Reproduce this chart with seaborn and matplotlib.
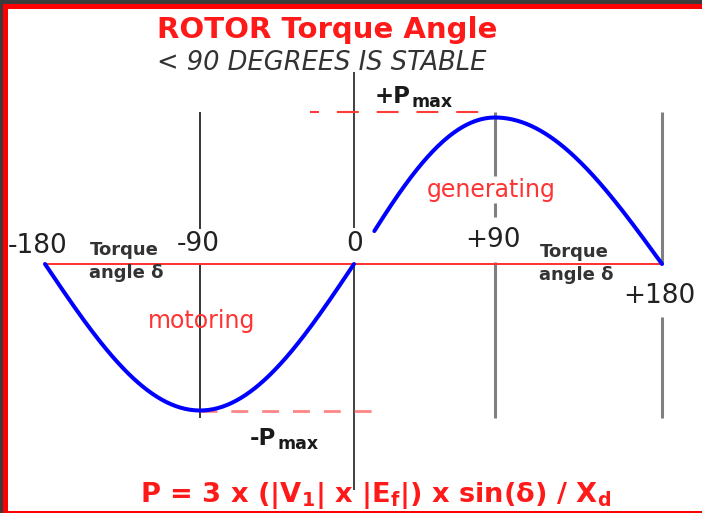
import numpy as np
import pandas as pd
import seaborn as sns
import matplotlib
matplotlib.use('Agg')
import matplotlib.pyplot as plt
from matplotlib.patches import Rectangle

# chart values (angle in degrees, power in units of Pmax)
angle_ticks = [-180, -90, 0, 90, 180]
tick_labels = ['-180', '-90', '0', '+90', '+180']
p_max = 1.0
motoring_range = [-180, 0]
generating_range = [13, 180]      # curve starts a bit right of the "0" label
pmax_dash_x = [-26, 90]
pmax_dash_y = 1.038
nmax_dash_x = [-90, 18]
nmax_dash_y = -1.003
guide_x = [-90, 0, 90, 180]
guide_segments = [
    [(1.038, 0.239), (0.007, -1.051)],
    [(1.311, 0.246), (0.007, -1.543)],
    [(1.038, 0.601), (0.416, 0.321), (0.014, -1.051)],
    [(1.038, 0.0), (-0.362, -1.051)],
]

W, H = 702, 513
sns.set_style('white')
plt.rcParams['font.family'] = ['DejaVu Sans']
plt.rcParams['mathtext.fontset'] = 'custom'
plt.rcParams['mathtext.rm'] = 'DejaVu Sans:bold'
plt.rcParams['mathtext.it'] = 'DejaVu Sans:bold'
plt.rcParams['mathtext.bf'] = 'DejaVu Sans:bold'
plt.rcParams['mathtext.default'] = 'rm'

fig = plt.figure(figsize=(W / 100, H / 100), dpi=100, facecolor='#3b3b3b')

def px(x, y):
    return x / W, 1 - y / H

# red frame and white panel
fig.add_artist(Rectangle(px(3, 513), (W - 3) / W, 509 / H, transform=fig.transFigure,
                         facecolor='#ff0000', edgecolor='none', zorder=-5))
fig.add_artist(Rectangle(px(7.5, 511), (W - 7.5) / W, 502 / H, transform=fig.transFigure,
                         facecolor='white', edgecolor='none', zorder=-4))

ax = fig.add_axes([0, 0, 1, 1])
ax.patch.set_alpha(0)

# the drawing spaces the angle marks unevenly; piecewise-linear angle scale
scale_deg = [-206.2, -180, -90, 0, 90, 180, 201.6]
scale_px = [0, 45, 200, 354, 495, 662, 702]
ax.set_xscale('function', functions=(lambda a: np.interp(a, scale_deg, scale_px),
                                     lambda p: np.interp(p, scale_px, scale_deg)))
ax.set_xlim(scale_deg[0], scale_deg[-1])
ax.set_ylim(-(H - 264) / 146.5, 264 / 146.5)

# vertical guide lines
guide_styles = [('black', 1.1), ('#404040', 1.4), ('#808080', 2.2), ('#808080', 2.2)]
for gx, segs, (c, lw) in zip(guide_x, guide_segments, guide_styles):
    for top, bot in segs:
        ax.vlines(gx, bot, top, color=c, lw=lw, zorder=1)

# torque angle axis
ax.plot([angle_ticks[0], angle_ticks[-1]], [0, 0], color='#ff3030', lw=1.4, zorder=2)

# Pmax dashed levels
ax.plot(pmax_dash_x, [pmax_dash_y] * 2, color='#ff3b3b', lw=1.5,
        linestyle=(6.2, (10.5, 8.6)), dash_capstyle='butt', zorder=2)
ax.plot(nmax_dash_x, [nmax_dash_y] * 2, color='#ff8585', lw=2.0,
        linestyle=(0, (6.1, 5.0)), dash_capstyle='butt', zorder=2)

# power-angle curve P = Pmax sin(delta)
rows = []
for name, (a0, a1) in [('motoring', motoring_range), ('generating', generating_range)]:
    d = np.linspace(a0, a1, 200)
    rows.append(pd.DataFrame({'delta': d, 'P': p_max * np.sin(np.radians(d)), 'mode': name}))
curve = pd.concat(rows)
sns.lineplot(data=curve, x='delta', y='P', units='mode', estimator=None, color='#0000ff',
             lw=2.9, sort=False, ax=ax, zorder=3, legend=False)
ax.axis('off')

# titles
fig.text(*px(157, 38), 'ROTOR Torque Angle', color='#ff1a1a', fontsize=21,
         fontweight='bold', ha='left', va='baseline')
fig.text(*px(157, 70), '< 90 DEGREES IS STABLE', color='#333333', fontsize=18.5,
         style='italic', ha='left', va='baseline')

# tick labels
tick_pos = [(8, 253, 'left'), (177, 251, 'left'), (355, 251, 'center'),
            (465, 247, 'left'), (623, 303, 'left')]
for (x, y, ha), lab in zip(tick_pos, tick_labels):
    fig.text(*px(x, y), lab, color='#222222', fontsize=19, ha=ha, va='baseline')

# axis captions
for x, y in [(90, 255), (540, 257)]:
    fig.text(*px(x, y), 'Torque', color='#333333', fontsize=13, fontweight='bold',
             ha='left', va='baseline')
    fig.text(*px(x - 1, y + 23), 'angle δ', color='#333333', fontsize=13, fontweight='bold',
             ha='left', va='baseline')

fig.text(*px(427, 197), 'generating', color='#ff3333', fontsize=17, ha='left', va='baseline')
fig.text(*px(148, 328), 'motoring', color='#ff3333', fontsize=17, ha='left', va='baseline')

# Pmax labels, "max" set as a subscript right after the P
for sign, x0, y0 in [('+P', 375, 103), ('-P', 250, 445)]:
    t = fig.text(*px(x0, y0), sign, color='#1a1a1a', fontsize=16.5, fontweight='bold',
                 ha='left', va='baseline')
    ax.annotate('max', xy=(1, 0), xycoords=t, xytext=(0.5, 1), textcoords='offset points',
                color='#1a1a1a', fontsize=12.5, fontweight='bold', ha='left', va='baseline')

fig.text(*px(140, 502), r'P = 3 x (|V$_1$| x |E$_f$|) x sin(δ) / X$_d$',
         color='#ff1a1a', fontsize=19.6, fontweight='bold', ha='left', va='baseline')

fig.savefig('out.png', dpi=100, facecolor=fig.get_facecolor())
